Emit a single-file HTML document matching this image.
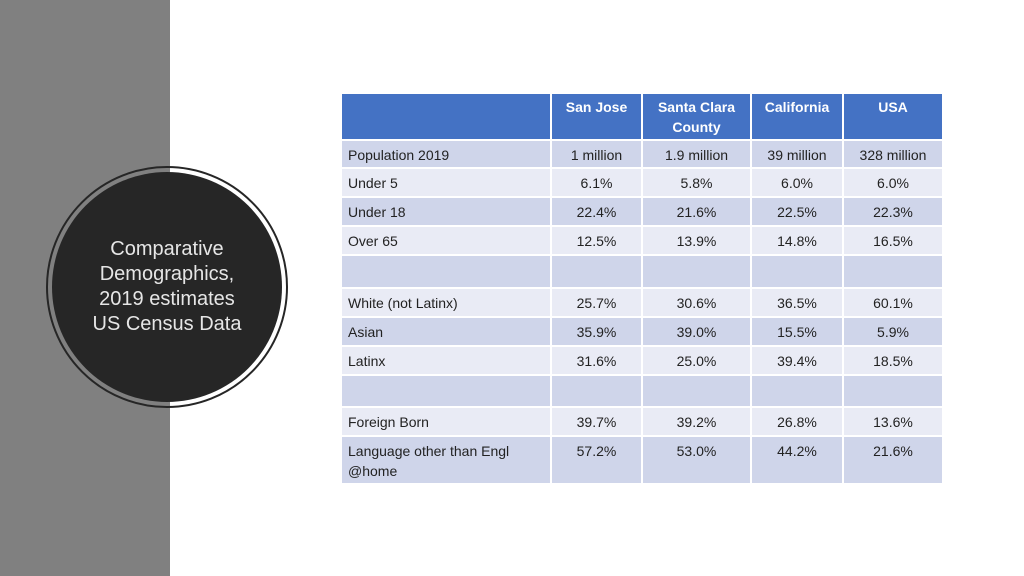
<!DOCTYPE html>
<html><head><meta charset="utf-8"><style>
body{margin:0;width:1024px;height:576px;background:#fff;position:relative;overflow:hidden;font-family:"Liberation Sans",sans-serif}
#side{position:absolute;left:0;top:0;width:170px;height:576px;background:#808080}
#ring{position:absolute;left:46px;top:166px;width:242px;height:242px;border-radius:50%;border:2px solid #262626;box-sizing:border-box}
#circle{position:absolute;left:52px;top:172px;width:230px;height:230px;border-radius:50%;background:#262626;display:flex;align-items:center;justify-content:center;text-align:center;color:#e6e6e6;font-size:20px;line-height:25px}
table{position:absolute;left:340px;top:92px;border-collapse:collapse;font-size:14px;color:#222}
td,th{border:2px solid #fff;padding:0;vertical-align:top}
th{background:#4472c4;color:#fff;font-weight:bold;font-size:14px;padding-top:3px;line-height:20px}
td{line-height:20px;padding-top:4px}
td.l{padding-left:6px;text-align:left}
td.n{text-align:center}
tr.d td{background:#cfd5ea}
tr.e td{background:#e9ebf5}
</style></head><body>
<div id="side"></div>
<div id="ring"></div>
<div id="circle"><div>Comparative<br>Demographics,<br>2019 estimates<br>US Census Data</div></div>
<table>
<colgroup><col style="width:210px"><col style="width:91px"><col style="width:109px"><col style="width:92px"><col style="width:100px"></colgroup>
<tr style="height:47px"><th></th><th>San Jose</th><th>Santa Clara<br>County</th><th>California</th><th>USA</th></tr>
<tr class="d" style="height:28px"><td class="l">Population 2019</td><td class="n">1 million</td><td class="n">1.9 million</td><td class="n">39 million</td><td class="n">328 million</td></tr>
<tr class="e" style="height:29px"><td class="l">Under 5</td><td class="n">6.1%</td><td class="n">5.8%</td><td class="n">6.0%</td><td class="n">6.0%</td></tr>
<tr class="d" style="height:29px"><td class="l">Under 18</td><td class="n">22.4%</td><td class="n">21.6%</td><td class="n">22.5%</td><td class="n">22.3%</td></tr>
<tr class="e" style="height:29px"><td class="l">Over 65</td><td class="n">12.5%</td><td class="n">13.9%</td><td class="n">14.8%</td><td class="n">16.5%</td></tr>
<tr class="d" style="height:33px"><td></td><td></td><td></td><td></td><td></td></tr>
<tr class="e" style="height:29px"><td class="l">White (not Latinx)</td><td class="n">25.7%</td><td class="n">30.6%</td><td class="n">36.5%</td><td class="n">60.1%</td></tr>
<tr class="d" style="height:29px"><td class="l">Asian</td><td class="n">35.9%</td><td class="n">39.0%</td><td class="n">15.5%</td><td class="n">5.9%</td></tr>
<tr class="e" style="height:29px"><td class="l">Latinx</td><td class="n">31.6%</td><td class="n">25.0%</td><td class="n">39.4%</td><td class="n">18.5%</td></tr>
<tr class="d" style="height:32px"><td></td><td></td><td></td><td></td><td></td></tr>
<tr class="e" style="height:29px"><td class="l">Foreign Born</td><td class="n">39.7%</td><td class="n">39.2%</td><td class="n">26.8%</td><td class="n">13.6%</td></tr>
<tr class="d" style="height:48px"><td class="l">Language other than Engl<br>@home</td><td class="n">57.2%</td><td class="n">53.0%</td><td class="n">44.2%</td><td class="n">21.6%</td></tr>
</table>
</body></html>
